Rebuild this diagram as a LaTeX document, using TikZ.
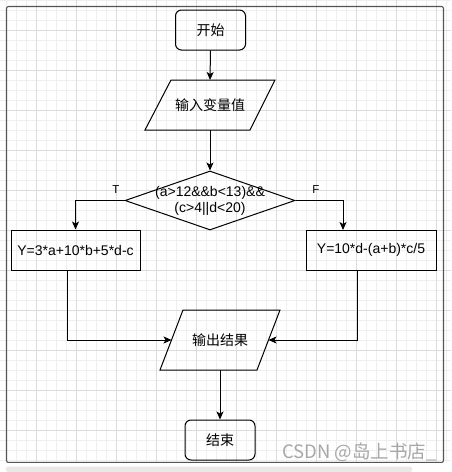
\documentclass[tikz,border=0pt]{standalone}
\usepackage{fontspec}
\setmainfont{Liberation Sans}
\newfontfamily\cjk{Noto Sans CJK SC}
\usetikzlibrary{shapes.geometric,arrows.meta,calc}
\definecolor{gridminor}{HTML}{EFEFEF}
\definecolor{gridmajor}{HTML}{DCDCDC}
\definecolor{framec}{HTML}{555555}
\definecolor{wmark}{HTML}{A8A8A8}
\tikzset{
  shapeline/.style={draw=black, line width=1pt},
  termbox/.style={shapeline, rounded corners=6pt, minimum width=70pt, minimum height=40pt, inner sep=0pt, font=\fontsize{14}{16}\selectfont\cjk},
  procbox/.style={shapeline, minimum width=130pt, minimum height=40pt, inner sep=0pt, font=\fontsize{14}{16}\selectfont},
  conn/.style={line width=1pt, -{Stealth[length=8pt,width=7pt,inset=2pt]}},
  lbl/.style={font=\fontsize{14}{16}\selectfont\cjk},
  tf/.style={font=\fontsize{11.5}{13}\selectfont},
}
\begin{document}
\begin{tikzpicture}[x=1pt,y=-1pt]
\useasboundingbox (0,0) rectangle (451,472);
\fill[white] (0,0) rectangle (451,472);
% grid
\foreach \x in {6,16,...,446} \draw[gridminor, line width=0.7pt] (\x,0) -- (\x,472);
\foreach \y in {0,10,...,470} \draw[gridminor, line width=0.7pt] (0,\y) -- (451,\y);
\foreach \x in {36,76,...,436} \draw[gridmajor, line width=0.9pt] (\x,0) -- (\x,472);
\foreach \y in {30,70,...,470} \draw[gridmajor, line width=0.9pt] (0,\y) -- (451,\y);
% frame
\draw[framec, line width=1.1pt, rounded corners=2pt] (6.5,6.5) rectangle (443.5,462.5);
\fill[white] (0,463.2) rectangle (451,472);
\fill[gray!18, rounded corners=2pt] (6,466.5) rectangle (412,472);

% start
\node[termbox] (start) at (210.5,30) {开始};
% input parallelogram
\coordinate (inTop) at (210,80);
\coordinate (inBot) at (210,130);
\draw[shapeline, line join=miter] (171,80) -- (275,80) -- (250,130) -- (145,130) -- cycle;
\node[lbl] (input) at (210,105) {输入变量值};
% decision
\node[diamond, shapeline, minimum width=170pt, minimum height=59pt, inner sep=0pt] (dec) at (210,200.5) {};
\node[align=center, font=\fontsize{14}{16}\selectfont] (dectext) at (210,201) {(a>12\&\&b<13)\&\&\\(c>4||d<20)};
% boxes
\node[procbox, minimum width=129pt] (left) at (75.5,250) {Y=3*a+10*b+5*d-c};
\node[procbox] (right) at (371,250) {Y=10*d-(a+b)*c/5};
% output parallelogram
\coordinate (outTop) at (220,310);
\coordinate (outBot) at (220,370);
\coordinate (outL) at (171.5,340);
\coordinate (outR) at (268.5,340);
\draw[shapeline, line join=miter] (183,310) -- (280,310) -- (257,370) -- (160,370) -- cycle;
\node[lbl] (output) at (220,340) {输出结果};
% end
\node[termbox] (end) at (220,440) {结束};

% connectors
\draw[conn] (start.south) -- (inTop);
\draw[conn] (inBot) -- (dec.north);
\draw[conn] (dec.west) -| (left.north);
\coordinate (rin) at (343,230);
\draw[conn] (dec.east) -| (rin);
\draw[conn] ($(left.south)+(-8.5,0)$) |- (outL);
\draw[conn] ($(right.south)+(-14,0)$) |- (outR);
\draw[conn] (outBot) -- (end.north);

% labels
\node[tf] (tl) at (116,190) {T};
\node[tf] (fl) at (316,190) {F};

% watermark
\node[anchor=east, text=wmark, font=\fontsize{18.5}{20}\selectfont\cjk, inner sep=0pt] (wm) at (437,452) {CSDN @岛上书店\_};
\end{tikzpicture}
\end{document}
